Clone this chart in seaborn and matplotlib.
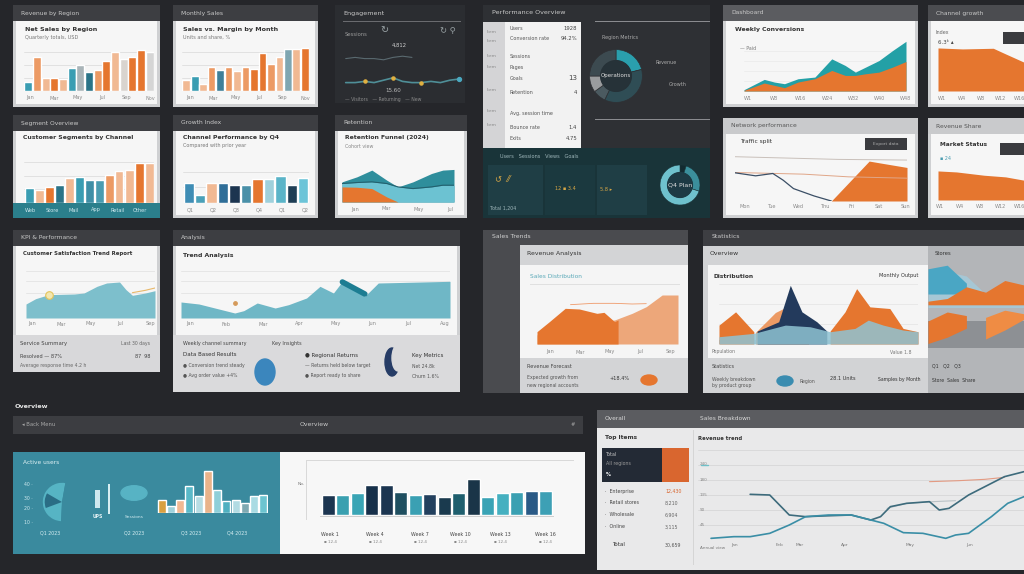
import numpy as np
import matplotlib.pyplot as plt
import seaborn as sns
from matplotlib.patches import Rectangle, Circle, Ellipse

sns.set_style("white")
plt.rcParams['font.family'] = ['DejaVu Sans']

# ---- data ----
region_sales = [24, 92, 35, 35, 32, 62, 72, 52, 57, 82, 107, 87, 92, 112, 107]
monthly_sales = [32, 47, 22, 72, 64, 72, 62, 72, 67, 117, 82, 102, 127, 127, 132]
segment_share = [43, 38, 46, 53, 73, 76, 68, 68, 83, 93, 98, 118, 118]
channel_growth = [58, 23, 58, 58, 53, 53, 68, 68, 78, 53, 73]
weekly_orders = [60, 60, 65, 90, 90, 70, 60, 63, 55, 65, 107, 55, 65, 70, 73, 73]
active_users = [40, 20, 40, 80, 50, 125, 70, 35, 40, 30, 50, 55]

conv_weeks = [0, 6, 9, 12, 16, 21, 26, 30, 33, 36, 40, 44, 48]
conv_total = [4, 35, 27, 22, 37, 42, 97, 77, 57, 72, 92, 122, 150]
conv_paid = [2, 24, 17, 10, 27, 37, 62, 47, 47, 52, 57, 72, 89]

growth_weeks = [0, 8, 18, 22, 28]
growth_vals = [130, 127, 129, 112, 87]
share_weeks = [0, 6, 15, 22, 28]
share_vals = [88, 85, 75, 70, 60]

traffic_gray_x = [0, 30, 50]
traffic_gray = [132, 124, 122]
traffic_area_x = [0, 28, 39, 43, 50]
traffic_area = [0, 0, 119, 112, 100]
traffic_navy_x = [0, 6, 11, 14, 17, 23, 28]
traffic_navy = [84, 75, 82, 62, 37, 15, 0]
traffic_thin_x = [0, 20, 33, 50]
traffic_thin = [85, 80, 72, 68]

ret_x = [0, 4, 8, 12, 15, 19, 24, 27, 30]
ret_back = [60, 75, 95, 65, 45, 60, 85, 95, 97]
ret_mid = [55, 58, 60, 55, 45, 40, 45, 50, 50]
ret_front = [45, 44, 40, 15, 0, 0, 0, 0, 0]

csat_x = [0, 3, 7, 15, 18, 22, 25, 29, 31, 33, 37, 40]
csat = [42, 58, 70, 72, 75, 95, 105, 108, 85, 68, 75, 82]
trend_x = [0, 4, 12, 14, 17, 21, 24, 28, 31, 34, 36, 38, 41, 44, 60]
trend = [48, 42, 15, 22, 45, 30, 40, 60, 95, 75, 110, 90, 65, 105, 110]
streak_x = [36, 41]
streak = [108, 72]

rev_x = [0, 3.5, 9.5, 16, 22, 27, 31, 35.5, 40]
rev_light = [27, 52, 62, 65, 72, 92, 112, 147, 147]
rev_dark_x = [0, 3.5, 8, 12, 17, 19, 22, 23]
rev_dark = [37, 67, 107, 105, 92, 95, 67, 72]

peak_a_x = [0, 5, 10.5]
peak_a = [57, 97, 37]
peak_b_x = [11, 17, 22, 27]
peak_b = [35, 95, 120, 40]
peak_navy_x = [11.5, 18, 21.5, 25, 29.5, 32.5]
peak_navy = [39, 67, 177, 97, 67, 39]
peak_c_x = [33.5, 38, 41.5, 45.5, 51.5, 55.5, 60]
peak_c = [39, 97, 167, 112, 107, 47, 37]
peak_teal_x = [0, 10.5, 20, 27.5, 33.5, 41, 45, 49.5, 55.5, 60]
peak_teal = [22, 32, 57, 52, 37, 47, 72, 57, 42, 37]

side_x = [0, 2, 4, 6, 8, 10]
side_blue = [70, 85, 80, 60, 62, 65]
side_orange = [52, 55, 68, 62, 75, 70]

eng_x = list(range(13))
eng_main = [12, 12, 13, 12, 14, 16, 13, 12, 12, 13, 12, 14, 15]
eng_upper = [32, 33, 32, 32, 31, 33, 34, 33]

ops_share = [21, 36, 8, 10, 25]
plan_share = [5, 25, 70]

sales_a_x = [16, 22, 24, 28, 33, 38, 47, 53, 56, 59, 64, 71, 74, 77, 83, 90, 94, 100]
sales_a = [137, 135, 115, 75, 70, 72, 75, 60, 70, 100, 110, 115, 90, 95, 135, 170, 190, 205]
sales_b_x = [4, 11, 16, 22, 28, 33, 40, 47, 53, 57, 63, 69, 76, 79, 83, 90, 95, 100]
sales_b = [5, 10, 10, 20, 45, 70, 75, 75, 60, 50, 22, 20, 5, 15, 20, 70, 110, 130]
sales_red_x = [71, 80, 88, 94]
sales_red = [175, 178, 182, 188]
sales_gray_x = [58, 64, 72, 79]
sales_gray = [95, 110, 115, 118]

month_labels = ['Jan', 'Mar', 'May', 'Jul', 'Sep', 'Nov']
quarter_labels = ['Q1 2023', 'Q2 2023', 'Q3 2023', 'Q4 2023']
top_items = ['Enterprise', 'Retail stores', 'Wholesale', 'Online']
top_values = ['12,430', '8,210', '6,904', '3,115']

# ---- style ----
BG = '#25262a'
HDR = '#3d3e42'
OR = '#e5762f'
OR2 = '#ec9a64'
PE = '#f1b993'
TE = '#3a9db2'
TE3 = '#2b7488'
NV = '#1c3550'

W, H = 1024, 574
fig = plt.figure(figsize=(W / 100, H / 100), dpi=100, facecolor=BG)


def rect(x, y, w, h, color, z=-5):
    fig.add_artist(Rectangle((x / W, 1 - (y + h) / H), w / W, h / H, transform=fig.transFigure,
                             facecolor=color, edgecolor='none', zorder=z))


def label(x, y, s, size=4.5, color='#555555', **kw):
    fig.text(x / W, 1 - y / H, s, fontsize=size, color=color, va='center', **kw)


def chart(x, y, w, h):
    ax = fig.add_axes([x / W, 1 - (y + h) / H, w / W, h / H])
    ax.set_axis_off()
    return ax


def card(x, y, w, h, title, hdr=HDR, body='#f6f6f6', hh=16, tcol='#c9c9c9'):
    rect(x, y, w, h, '#cfd0d2', z=-9)
    rect(x, y, w, hh, hdr, z=-8)
    rect(x + 3, y + hh, w - 6, h - hh - 3, body, z=-8)
    label(x + 8, y + hh / 2, title, size=4.3, color=tcol)


def bars(ax, vals, colors, width=0.9):
    keys = ['b%02d' % i for i in range(len(vals))]
    sns.barplot(x=keys, y=vals, hue=keys, palette=dict(zip(keys, colors)), legend=False,
                saturation=1, width=width, dodge=False, ax=ax)
    ax.set_axis_off()


def grid(ax, levels, color='#dedede'):
    for v in levels:
        ax.axhline(v, color=color, lw=0.6, zorder=0)


def xlabels(x0, x1, y, names, color='#8a8a8a'):
    for i, n in enumerate(names):
        label(x0 + (x1 - x0) * i / (len(names) - 1), y, n, size=3.6, color=color, ha='center')


# ---- row 1 ----
card(13, 5, 147, 102, 'Revenue by Region')
label(25, 29, 'Net Sales by Region', size=4.6, color='#333333', weight='bold')
label(25, 37, 'Quarterly totals, USD', size=3.6, color='#777777')
ax = chart(24, 45, 130, 46)
bars(ax, region_sales, [TE, OR2, PE, OR, PE, TE, '#a9b4b8', TE3, OR2, OR, PE, '#d9d4cf', OR, OR, '#d5d5d5'])
ax.set_ylim(0, 125)
grid(ax, [35, 70, 105])
xlabels(30, 150, 98, month_labels)

card(173, 5, 145, 102, 'Monthly Sales')
label(183, 29, 'Sales vs. Margin by Month', size=4.6, color='#333333', weight='bold')
label(183, 37, 'Units and share, %', size=3.6, color='#777777')
ax = chart(182, 45, 127, 46)
bars(ax, monthly_sales, [PE, TE, PE, OR2, '#3f7f99', OR2, PE, OR2, OR, OR, OR2, PE, '#7fa6b1', PE, OR])
ax.set_ylim(0, 140)
grid(ax, [40, 80, 120])
xlabels(190, 305, 98, month_labels)

rect(335, 5, 130, 98, '#2b2d31', z=-8)
label(343, 13, 'Engagement', size=4.6, color='#c8c8c8')
rect(343, 21, 118, 1, '#6a6b6f', z=-7)
label(345, 34, 'Sessions', size=3.8, color='#9a9a9a')
label(380, 30, '↻', size=7, color='#9aa3a6')
label(440, 31, '↻ ⚲', size=6, color='#9aa3a6')
label(392, 45, '4,812', size=3.8, color='#cfcfcf')
ax = chart(340, 25, 125, 72)
ax.set_ylim(0, 60)
sns.lineplot(x=eng_x, y=eng_main, ax=ax, color='#4f8f98', lw=1.2)
sns.lineplot(x=eng_x[:8], y=eng_upper, ax=ax, color='#5a6a70', lw=0.8)
ax.scatter([eng_x[2], eng_x[5], eng_x[8]], [eng_main[2], eng_main[5], eng_main[8]], s=5, color='#e0b040', zorder=3)
ax.scatter([eng_x[12]], [eng_main[12]], s=8, color='#4aa8c0', zorder=3)
ax.set_axis_off()
label(385, 91, '15.60', size=4, color='#bdbdbd')
label(345, 99, '— Visitors   — Returning   — New', size=3.3, color='#8a8a8a')

# big dark panel with list and donut
rect(483, 5, 227, 143, '#2e3034', z=-9)
label(492, 12, 'Performance Overview', size=4.6, color='#c8c8c8')
rect(483, 22, 98, 126, '#f2f2f2', z=-8)
rect(483, 22, 22, 126, '#d4d4d6', z=-7)
rect(595, 21, 115, 1.2, '#8a8b8f', z=-7)
rect(595, 119, 115, 1.2, '#8a8b8f', z=-7)
rows = [(29, 'Users', '1928'), (38, 'Conversion rate', '94.2%'), (56, 'Sessions', ''),
        (67, 'Pages', ''), (78, 'Goals', '13'), (93, 'Retention', '4'),
        (114, 'Avg. session time', ''), (128, 'Bounce rate', '1.4'), (138, 'Exits', '4.75')]
for yy, nm, vv in rows:
    label(510, yy, nm, size=3.5, color='#555555')
    if vv:
        label(577, yy, vv, size=3.8 if vv != '13' else 5, color='#444444', ha='right')
for yy in [32, 41, 56, 67, 90, 111, 125]:
    label(487, yy, 'Item', size=3.2, color='#8a8a8a')
ax = chart(583, 43, 66, 66)
ax.pie(ops_share, colors=['#2a9fad', '#2f4d55', '#4b5a60', '#9a9c9e', '#3c4a50'], startangle=90,
       counterclock=False, wedgeprops=dict(width=0.42, edgecolor='#2e3034', lw=0.5))
ax.add_patch(Circle((0, 0), 0.58, color='#263238'))
ax.text(0, 0, 'Operations', fontsize=4, color='#dddddd', ha='center', va='center')
ax.set_aspect('equal')
label(602, 38, 'Region Metrics', size=3.5, color='#aaaaaa')
label(655, 63, 'Revenue', size=3.5, color='#aaaaaa')
label(669, 84, 'Growth', size=3.5, color='#aaaaaa')

rect(483, 148, 227, 70, '#193439', z=-9)
rect(488, 165, 55, 50, '#1f3e45', z=-8)
rect(545, 165, 50, 50, '#1b393f', z=-8)
rect(597, 165, 50, 50, '#1f3e45', z=-8)
label(500, 156, 'Users   Sessions   Views   Goals', size=3.6, color='#9fb7bb')
label(495, 180, '↺  ⁄⁄', size=6, color='#d9a845')
label(555, 188, '12 ▪ 3.4', size=3.6, color='#d9a845')
label(600, 190, '5.8 ▸', size=3.6, color='#d9a845')
label(490, 208, 'Total 1,204', size=3.4, color='#9fb7bb')
ax = chart(655, 160, 50, 50)
ax.pie(plan_share, colors=['#132a30', '#3b8f9c', '#6fc1cd'], startangle=90, counterclock=False,
       wedgeprops=dict(width=0.38, edgecolor='#193439', lw=0.4))
ax.add_patch(Circle((0, 0), 0.62, color='#1d3a44'))
ax.text(0, 0, 'Q4 Plan', fontsize=4.5, color='#e0e0e0', ha='center', va='center')
ax.set_aspect('equal')

card(723, 5, 195, 102, 'Dashboard', hdr='#5b5c60')
label(735, 29, 'Weekly Conversions', size=4.4, color='#333333', weight='bold')
label(740, 48, '— Paid', size=3.4, color='#777777')
ax = chart(744, 38, 162, 53)
ax.set_ylim(0, 160)
ax.set_xlim(0, 48)
grid(ax, [30, 60, 90, 120], color='#ececec')
ax.fill_between(conv_weeks, conv_total, color='#23a0a6', lw=0)
ax.fill_between(conv_weeks, conv_paid, color=OR, lw=0)
xlabels(748, 906, 99, ['W1', 'W8', 'W16', 'W24', 'W32', 'W40', 'W48'])

card(928, 5, 100, 102, 'Channel growth', hdr='#4b4c50')
label(936, 33, 'Index', size=3.5, color='#666666')
label(938, 42, '6.3ᵏ ▴', size=4, color='#444444')
rect(1003, 32, 25, 12, '#3a3b3f', z=-6)
ax = chart(938, 40, 86, 51)
ax.set_xlim(0, 28)
ax.set_ylim(0, 154)
ax.fill_between(growth_weeks, growth_vals, color=OR, lw=0)
xlabels(942, 1020, 99, ['W1', 'W4', 'W8', 'W12', 'W16'])

# ---- row 2 ----
card(13, 115, 147, 103, 'Segment Overview')
label(23, 137, 'Customer Segments by Channel', size=4.4, color='#333333', weight='bold')
ax = chart(24, 148, 130, 55)
bars(ax, segment_share, [TE, PE, OR, TE3, PE, TE, '#3f8fa6', '#4a9cb0', OR2, PE, PE, OR, PE])
ax.set_ylim(0, 162)
grid(ax, [40, 80, 120])
rect(13, 203, 147, 15, '#2b7f8c', z=-6)
xlabels(30, 140, 210, ['Web', 'Store', 'Mail', 'App', 'Retail', 'Other'], color='#cfe9ee')

card(173, 115, 145, 103, 'Growth Index')
label(183, 137, 'Channel Performance by Q4', size=4.4, color='#333333', weight='bold')
label(183, 146, 'Compared with prior year', size=3.5, color='#777777')
ax = chart(183, 160, 126, 43)
bars(ax, channel_growth, ['#3f8db5', '#4aa0b8', PE, '#2f6e98', NV, '#4a90a8', OR, '#9fd0db', '#5ab4c8', '#1f3e55', '#6cc4d8'])
ax.set_ylim(0, 124)
grid(ax, [45, 90])
xlabels(190, 305, 210, ['Q1', 'Q2', 'Q3', 'Q4', 'Q1', 'Q2'])

card(335, 115, 132, 103, 'Retention', hdr='#3b3c40')
label(345, 138, 'Retention Funnel (2024)', size=4.4, color='#333333', weight='bold')
label(345, 146, 'Cohort view', size=3.4, color='#888888')
ax = chart(342, 155, 112, 47)
ax.set_xlim(0, 30)
ax.set_ylim(0, 140)
ax.fill_between(ret_x, ret_back, color='#2f8e9c', lw=0)
ax.fill_between(ret_x, ret_mid, color='#6cc2d2', lw=0)
ax.fill_between(ret_x, ret_front, color=OR, lw=0)
sns.lineplot(x=ret_x, y=ret_mid, ax=ax, color='#23606e', lw=0.8)
ax.set_axis_off()
xlabels(355, 450, 209, ['Jan', 'Mar', 'May', 'Jul'])

card(723, 118, 195, 100, 'Network performance', hdr='#c9cacc', tcol='#555555')
label(740, 141, 'Traffic split', size=4.2, color='#333333')
rect(865, 138, 42, 12, '#3a3b3f', z=-6)
label(886, 144, 'Export data', size=3.2, color='#aaaaaa', ha='center')
ax = chart(735, 150, 172, 51)
ax.set_xlim(0, 50)
ax.set_ylim(0, 152)
ax.fill_between(traffic_area_x, traffic_area, color=OR, lw=0)
sns.lineplot(x=traffic_gray_x, y=traffic_gray, ax=ax, color='#c9c0ba', lw=0.7)
sns.lineplot(x=traffic_thin_x, y=traffic_thin, ax=ax, color='#e0a688', lw=0.7)
sns.lineplot(x=traffic_navy_x, y=traffic_navy, ax=ax, color='#3b4f66', lw=0.9)
ax.set_axis_off()
xlabels(745, 905, 207, ['Mon', 'Tue', 'Wed', 'Thu', 'Fri', 'Sat', 'Sun'])

card(928, 118, 100, 100, 'Revenue Share', hdr='#c9cacc', tcol='#555555')
label(940, 145, 'Market Status', size=4.2, color='#333333', weight='bold')
label(940, 158, '▪ 24', size=3.5, color='#4a9cb0')
rect(1000, 143, 24, 12, '#3a3b3f', z=-6)
ax = chart(938, 165, 86, 35)
ax.set_xlim(0, 28)
ax.set_ylim(0, 106)
ax.fill_between(share_weeks, share_vals, color=OR, lw=0)
xlabels(940, 1020, 207, ['W1', 'W4', 'W8', 'W12', 'W16'])

# ---- row 3 ----
card(13, 230, 147, 142, 'KPI & Performance')
rect(13, 335, 147, 37, '#d8d8da', z=-6)
label(23, 254, 'Customer Satisfaction Trend Report', size=3.9, color='#333333', weight='bold')
ax = chart(26, 268, 129, 50)
ax.set_xlim(0, 40)
ax.set_ylim(0, 150)
grid(ax, [75, 110, 140], color='#e3e3e3')
ax.fill_between(csat_x, csat, color='#7dbfcc', lw=0)
ax.scatter([csat_x[2]], [csat[2]], s=30, facecolor='#f3e7b0', edgecolor='#e5c45a', lw=0.8, zorder=3)
sns.lineplot(x=csat_x[9:], y=[v + 8 for v in csat[9:]], ax=ax, color='#e8b86a', lw=0.8)
ax.set_axis_off()
xlabels(32, 150, 324, ['Jan', 'Mar', 'May', 'Jul', 'Sep'])
label(20, 343, 'Service Summary', size=3.8, color='#444444')
label(150, 343, 'Last 30 days', size=3.3, color='#666666', ha='right')
label(20, 356, 'Resolved — 87%', size=3.6, color='#444444')
label(20, 365, 'Average response time 4.2 h', size=3.3, color='#666666')
label(150, 356, '87  98', size=3.5, color='#444444', ha='right')

card(173, 230, 287, 162, 'Analysis')
rect(173, 335, 287, 57, '#dadadc', z=-6)
label(183, 255, 'Trend Analysis', size=4.4, color='#333333', weight='bold')
ax = chart(181, 268, 269, 50)
ax.set_xlim(0, 60)
ax.set_ylim(0, 150)
grid(ax, [75, 110, 140], color='#e3e3e3')
ax.fill_between(trend_x, trend, color='#6fb7c6', lw=0)
sns.lineplot(x=streak_x, y=streak, ax=ax, color='#1d7d92', lw=4, solid_capstyle='round')
ax.scatter([trend_x[2]], [trend[2] + 30], s=6, color='#d59a5a', zorder=3)
ax.set_axis_off()
xlabels(190, 445, 324, ['Jan', 'Feb', 'Mar', 'Apr', 'May', 'Jun', 'Jul', 'Aug'])
label(183, 343, 'Weekly channel summary', size=3.5, color='#444444')
label(272, 343, 'Key Insights', size=3.5, color='#444444')
label(183, 355, 'Data Based Results', size=4, color='#333333')
label(183, 366, '● Conversion trend steady', size=3.3, color='#555555')
label(183, 376, '● Avg order value +4%', size=3.3, color='#555555')
label(305, 355, '● Regional Returns', size=4, color='#333333')
label(305, 366, '— Returns held below target', size=3.3, color='#555555')
label(305, 376, '● Report ready to share', size=3.3, color='#555555')
label(412, 355, 'Key Metrics', size=4, color='#333333')
label(412, 366, 'Net 24.8k', size=3.3, color='#555555')
label(412, 376, 'Churn 1.6%', size=3.3, color='#555555')
fig.add_artist(Ellipse((265 / W, 1 - 372 / H), 20 / W, 26 / H, transform=fig.transFigure, color='#3b86bd', zorder=4))
fig.add_artist(Ellipse((392 / W, 1 - 362 / H), 14 / W, 28 / H, transform=fig.transFigure, color='#263c66', zorder=4))
fig.add_artist(Ellipse((398 / W, 1 - 358 / H), 12 / W, 26 / H, transform=fig.transFigure, color='#dadadc', zorder=4))

rect(483, 230, 205, 163, '#4a4b4f', z=-9)
label(492, 237, 'Sales Trends', size=4.4, color='#d0d0d0')
rect(520, 245, 168, 148, '#d3d4d6', z=-8)
rect(520, 265, 168, 93, '#f5f5f5', z=-7)
label(527, 254, 'Revenue Analysis', size=4.4, color='#333333')
label(530, 276, 'Sales Distribution', size=4.2, color='#5aa9b8')
rect(530, 284, 150, 0.8, '#e0e0e0', z=-6)
ax = chart(537, 290, 141, 54)
ax.set_xlim(0, 40)
ax.set_ylim(0, 162)
ax.fill_between(rev_x, rev_light, color='#eda77a', lw=0)
ax.fill_between(rev_dark_x, rev_dark, color=OR, lw=0)
sns.lineplot(x=rev_x[2:7], y=[118, 122, 122, 120, 121], ax=ax, color='#ef9a6a', lw=0.6)
ax.set_axis_off()
xlabels(550, 670, 352, ['Jan', 'Mar', 'May', 'Jul', 'Sep'])
label(527, 367, 'Revenue Forecast', size=3.6, color='#444444')
label(527, 378, 'Expected growth from', size=3.3, color='#555555')
label(527, 385, 'new regional accounts', size=3.3, color='#555555')
label(620, 379, '+18.4%', size=3.6, color='#333333', ha='center')
fig.add_artist(Ellipse((649 / W, 1 - 380 / H), 16 / W, 10 / H, transform=fig.transFigure, color=OR, zorder=4))

rect(703, 230, 321, 163, '#d2d3d5', z=-9)
rect(703, 230, 321, 16, HDR, z=-8)
label(712, 237, 'Statistics', size=4.4, color='#c9c9c9')
label(710, 254, 'Overview', size=4.4, color='#333333')
rect(708, 265, 220, 93, '#f5f5f5', z=-7)
label(714, 276, 'Distribution', size=4.2, color='#333333', weight='bold')
label(918, 276, 'Monthly Output', size=3.6, color='#333333', ha='right')
ax = chart(719, 282, 199, 62)
ax.set_xlim(0, 60)
ax.set_ylim(0, 187)
grid(ax, [60, 120, 180], color='#e6e6e6')
ax.fill_between([0, 60], [12, 12], color='#cdd6da', lw=0)
ax.fill_between(peak_b_x, peak_b, color=OR2, lw=0)
ax.fill_between(peak_a_x, peak_a, color=OR, lw=0)
ax.fill_between(peak_navy_x, peak_navy, color='#233a5c', lw=0)
ax.fill_between(peak_c_x, peak_c, color=OR, lw=0)
ax.fill_between(peak_teal_x, peak_teal, color='#8fc3d3', alpha=0.85, lw=0)
ax.set_axis_off()
label(712, 352, 'Population', size=3.3, color='#777777')
label(912, 352, 'Value 1.8', size=3.3, color='#777777', ha='right')
label(712, 367, 'Statistics', size=3.6, color='#444444')
label(712, 379, 'Weekly breakdown', size=3.3, color='#555555')
label(712, 386, 'by product group', size=3.3, color='#555555')
label(800, 381, 'Region', size=3.3, color='#555555')
label(830, 379, '28.1 Units', size=3.6, color='#333333')
label(920, 379, 'Samples by Month', size=3.3, color='#333333', ha='right')
fig.add_artist(Ellipse((785 / W, 1 - 381 / H), 16 / W, 10 / H, transform=fig.transFigure, color='#3a8cb0', zorder=4))
rect(928, 246, 96, 147, '#b3b5b8', z=-7)
label(935, 254, 'Stores', size=3.8, color='#333333')
ax = chart(928, 258, 96, 90)
ax.set_xlim(0, 10)
ax.set_ylim(0, 100)
ax.fill_between(side_x, 45, side_blue, color='#a6c7d5', lw=0)
ax.fill_between(side_x[:3], 60, [88, 92, 72], color='#4aa6c4', lw=0)
ax.fill_between(side_x, 48, side_orange, color=OR, lw=0)
ax.fill_between(side_x, 0, 30, color='#8d9094', lw=0)
ax.fill_between(side_x[:3], [5, 12, 22], [30, 40, 36], color=OR, lw=0)
ax.fill_between(side_x[3:], [10, 20, 32], [34, 42, 38], color='#ef8c44', lw=0)
ax.set_axis_off()
label(932, 366, 'Q1   Q2   Q3', size=3.3, color='#333333')
label(932, 380, 'Store  Sales  Share', size=3.3, color='#333333')

# ---- row 4 ----
label(15, 407, 'Overview', size=4.6, color='#e6e6e6', weight='bold')
rect(13, 416, 570, 18, '#3c3d41', z=-8)
label(22, 425, '◂ Back Menu', size=3.8, color='#a9a9a9')
label(314, 425, 'Overview', size=4.4, color='#c9c9c9', ha='center')
label(575, 425, '#', size=3.8, color='#a9a9a9', ha='right')

rect(13, 452, 267, 102, '#3a8a9e', z=-8)
rect(280, 452, 305, 102, '#f7f7f7', z=-8)
label(23, 463, 'Active users', size=4.2, color='#dff1f4')
for yy, t in zip([485, 498, 509, 523], ['40 ·', '30 ·', '20 ·', '10 ·']):
    label(24, yy, t, size=3.3, color='#cfe9ee')
ax = chart(38, 478, 48, 48)
ax.pie([52, 48], colors=['#56b4c4', '#3a8a9e'], startangle=80, wedgeprops=dict(lw=0))
ax.pie([14, 86], colors=['#2a6d85', (0, 0, 0, 0)], startangle=150, radius=0.9, wedgeprops=dict(lw=0))
ax.set_aspect('equal')
rect(95, 490, 5, 18, '#cfe8ee', z=-6)
rect(108, 484, 1.5, 30, '#d7eef2', z=-6)
label(93, 517, 'UPS', size=3.3, color='#e6f3f5', weight='bold')
fig.add_artist(Circle((134 / W, 1 - 493 / H), 13 / W, transform=fig.transFigure, color='#57b3c4', zorder=4))
label(134, 493, '46', size=6, color='#e9f6f8', ha='center', weight='bold')
label(134, 517, 'Sessions', size=3.2, color='#cfe9ee', ha='center')
ax = chart(157, 465, 111, 48)
bars(ax, active_users, ['#d9a040', '#9fd2dc', PE, '#5ab9c8', '#b7dde4', '#e9b38a', '#8fcfd9', '#4fb0c0', '#b2dbe3', '#7fa9b2', '#a9dbe3', '#6cc4d0'], width=0.85)
ax.set_ylim(0, 144)
for xx, t in zip([50, 134, 191, 237], quarter_labels):
    label(xx, 533, t, size=3.4, color='#d7eef2', ha='center')

rect(306, 460, 268, 0.8, '#d9d9d9', z=-6)
rect(306, 460, 0.8, 60, '#d9d9d9', z=-6)
ax = chart(321, 470, 232, 45)
bars(ax, weekly_orders, [NV, '#3aa0b0', '#3aa5b5', '#17304a', '#1b3550', '#1f4f60', '#3aa0b3', '#23405e',
                         '#1a3a4e', '#1f5f6e', '#1a3548', '#3aa3b5', '#45b0c0', '#3aa0b2', '#2a5a86', '#3da0b5'], width=0.88)
ax.set_ylim(0, 135)
label(298, 484, 'No.', size=3.2, color='#777777')
rect(320, 516, 234, 0.8, '#cfcfcf', z=-6)
for xx, t in zip([330, 375, 420, 460, 500, 545], ['Week 1', 'Week 4', 'Week 7', 'Week 10', 'Week 13', 'Week 16']):
    label(xx, 535, t, size=3.4, color='#444444', ha='center')
    label(xx, 542, '▪ 12.4', size=3, color='#888888', ha='center')

rect(597, 410, 427, 160, '#e9e9ea', z=-8)
rect(597, 410, 427, 18, '#5b5c60', z=-7)
label(605, 419, 'Overall', size=4.2, color='#d8d8d8')
label(700, 419, 'Sales Breakdown', size=4.2, color='#d8d8d8')
label(605, 438, 'Top Items', size=4.2, color='#333333', weight='bold')
rect(602, 448, 60, 34, '#232a35', z=-6)
rect(662, 448, 27, 34, '#d9662f', z=-6)
label(606, 454, 'Total', size=3.4, color='#c8c8c8')
label(606, 463, 'All regions', size=3.4, color='#9a9a9a')
label(606, 474, '%', size=3.6, color='#ffffff', weight='bold')
for i, (nm, vv) in enumerate(zip(top_items, top_values)):
    yy = 491 + i * 12
    label(605, yy, '·  ' + nm, size=3.4, color='#444444')
    label(665, yy, vv, size=3.4, color='#d9662f' if i == 0 else '#666666')
label(612, 545, 'Total', size=4, color='#333333')
label(665, 545, '30,659', size=3.4, color='#555555')
rect(693, 430, 0.8, 135, '#d5d5d5', z=-6)
label(698, 438, 'Revenue trend', size=3.8, color='#333333', weight='bold')
ax = chart(698, 450, 326, 90)
ax.set_xlim(0, 100)
ax.set_ylim(0, 270)
grid(ax, [0, 45, 90, 135, 180, 225, 270], color='#d7d7d7')
sns.lineplot(x=sales_gray_x, y=sales_gray, ax=ax, color='#b9c2c6', lw=0.8)
sns.lineplot(x=sales_red_x, y=sales_red, ax=ax, color='#e39a82', lw=0.8)
sns.lineplot(x=sales_a_x, y=sales_a, ax=ax, color='#3d6b7c', lw=1.2)
sns.lineplot(x=sales_b_x, y=sales_b, ax=ax, color='#3a8ea6', lw=1.2)
sns.lineplot(x=[1, 3], y=[225, 225], ax=ax, color='#6fc0c8', lw=1)
ax.set_axis_off()
for yy, t in zip([464, 480, 495, 510, 525], ['240', '180', '135', '90', '45']):
    label(700, yy, t, size=3, color='#888888')
for xx, t in zip([735, 780, 800, 845, 910, 970], ['Jan', 'Feb', 'Mar', 'Apr', 'May', 'Jun']):
    label(xx, 545, t, size=3.2, color='#777777', ha='center')
label(700, 548, 'Annual view', size=3, color='#777777')

plt.savefig("out.png", dpi=100)
